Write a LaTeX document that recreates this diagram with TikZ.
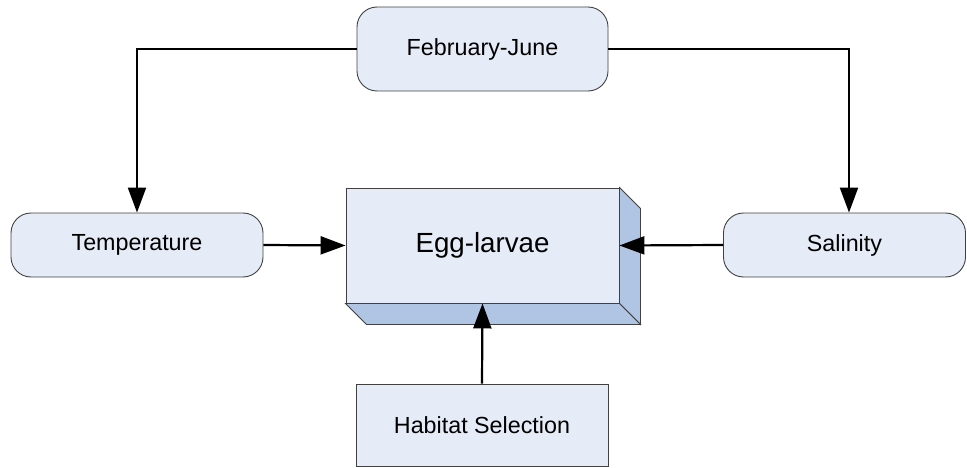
\documentclass[tikz,border=0pt]{standalone}
\usepackage{fontspec}
\setmainfont{Liberation Sans}
\usetikzlibrary{arrows.meta,calc}
\definecolor{boxfill}{HTML}{E6ECF7}
\definecolor{depthfill}{HTML}{B0C4E4}
\definecolor{boxline}{HTML}{404040}
\begin{document}
\begin{tikzpicture}[x=1pt,y=-1pt,
  base/.style={draw=boxline,line width=0.9pt,fill=boxfill,inner sep=0pt,
    font=\fontsize{23.3}{27}\selectfont},
  roundbox/.style={base,rounded corners=20pt},
  plainbox/.style={base},
  depthface/.style={draw=boxline,line width=0.9pt,fill=depthfill,line join=miter},
  conn/.style={line width=2.2pt,-{Triangle[length=25pt,width=18pt]}}]
\useasboundingbox (0,0) rectangle (967,468);
\node[roundbox,minimum width=251pt,minimum height=84pt] (feb) at (482.5,49) {February-June};
\node[roundbox,minimum width=252pt,minimum height=64pt] (temp) at (137,245) {Temperature};
\node[roundbox,minimum width=242pt,minimum height=64pt] (sal) at (844.5,245) {Salinity};
\node[plainbox,minimum width=252pt,minimum height=82pt] (hab) at (482,425) {Habitat Selection};
\node[plainbox,minimum width=273pt,minimum height=115pt,
  font=\fontsize{27.7}{32}\selectfont] (egg) at (482.5,245.5) {Egg-larvae};
\draw[depthface] (egg.north east) -- ([shift={(21pt,-21pt)}]egg.north east)
  -- ([shift={(21pt,-21pt)}]egg.south east) -- (egg.south east) -- cycle;
\draw[depthface] (egg.south west) -- ([shift={(21pt,-21pt)}]egg.south west)
  -- ([shift={(21pt,-21pt)}]egg.south east) -- (egg.south east) -- cycle;
\draw[conn] (feb.west) -| (temp.north);
\draw[conn] (feb.east) -| ([xshift=4.5pt]sal.north);
\draw[conn] (temp.east) -- (egg.west);
\draw[conn] (sal.west) -- (egg.east);
\draw[conn] (hab.north) -- (egg.south);
\end{tikzpicture}
\end{document}
